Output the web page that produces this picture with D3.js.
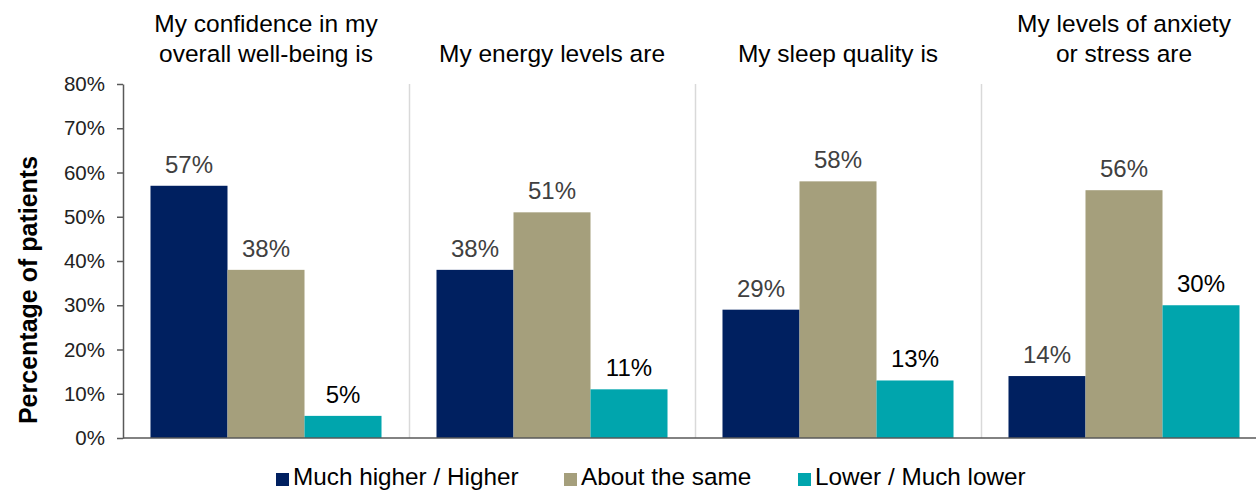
<!DOCTYPE html>
<html>
<head>
<meta charset="utf-8">
<script src="https://cdn.jsdelivr.net/npm/d3@7"></script>
<style>
  html, body { margin: 0; padding: 0; background: #fff; }
  svg { display: block; font-family: "Liberation Sans", Arial, sans-serif; }
</style>
</head>
<body>
<svg id="chart" width="1256" height="491"></svg>
<script>
// Survey questions (one group of bars each)
const categories = [
  ["My confidence in my", "overall well-being is"],
  ["My energy levels are"],
  ["My sleep quality is"],
  ["My levels of anxiety", "or stress are"]
];
const seriesNames = ["Much higher / Higher", "About the same", "Lower / Much lower"];
const seriesColors = ["#002060", "#A59F7C", "#00A5AD"];
const labelColors = ["#404040", "#404040", "#000000"];

// Percentage of patients per question, one array per response
const muchHigher = [57, 38, 29, 14];
const aboutSame = [38, 51, 58, 56];
const lower = [5, 11, 13, 30];

const yTicks = [0, 10, 20, 30, 40, 50, 60, 70, 80];

const seriesValues = [muchHigher, aboutSame, lower];
const keys = categories.map((c, i) => i);

const svg = d3.select("#chart");
const margin = { left: 123, top: 84, bottom: 438 };
const groupWidth = 286;

const x0 = d3.scaleBand()
  .domain(keys)
  .range([margin.left, margin.left + groupWidth * keys.length])
  .padding(0);

const x1 = d3.scaleBand()
  .domain(d3.range(seriesNames.length))
  .range([0, x0.bandwidth()])
  .paddingInner(0)
  .paddingOuter(0.357);

const y = d3.scaleLinear().domain([0, 80]).range([margin.bottom, margin.top]);

// Light separators between question groups
svg.append("g")
  .selectAll("line")
  .data(keys.slice(1))
  .join("line")
  .attr("x1", d => x0(d) + 0.5)
  .attr("x2", d => x0(d) + 0.5)
  .attr("y1", margin.top)
  .attr("y2", margin.bottom)
  .attr("stroke", "#d9d9d9")
  .attr("stroke-width", 1.5);

// Bars
const groups = svg.append("g")
  .selectAll("g")
  .data(keys)
  .join("g")
  .attr("transform", d => `translate(${x0(d)},0)`);

groups.selectAll("rect")
  .data(k => seriesValues.map((vals, s) => ({ s, v: vals[k] })))
  .join("rect")
  .attr("x", d => x1(d.s))
  .attr("width", x1.bandwidth())
  .attr("y", d => y(d.v))
  .attr("height", d => y(0) - y(d.v))
  .attr("fill", d => seriesColors[d.s]);

// Value labels above bars
groups.selectAll("text.val")
  .data(k => seriesValues.map((vals, s) => ({ s, v: vals[k] })))
  .join("text")
  .attr("class", "val")
  .attr("x", d => x1(d.s) + x1.bandwidth() / 2)
  .attr("y", d => y(d.v) - 13)
  .attr("text-anchor", "middle")
  .attr("font-size", 24)
  .attr("fill", d => labelColors[d.s])
  .text(d => d.v + "%");

// Question titles
const titles = svg.append("g")
  .selectAll("text")
  .data(keys)
  .join("text")
  .attr("text-anchor", "middle")
  .attr("font-size", 24.5)
  .attr("fill", "#000")
  .attr("x", d => x0(d) + x0.bandwidth() / 2);

titles.each(function(d) {
  const lines = categories[d];
  const t = d3.select(this);
  lines.forEach((ln, i) => {
    t.append("tspan")
      .attr("x", x0(d) + x0.bandwidth() / 2)
      .attr("y", 62 - (lines.length - 1 - i) * 30)
      .text(ln);
  });
});

// Y axis
const yAxis = svg.append("g")
  .attr("transform", `translate(${margin.left},0)`)
  .call(d3.axisLeft(y).tickValues(yTicks).tickFormat(d => d + "%").tickSize(6).tickSizeOuter(0).tickPadding(12));
yAxis.select(".domain").attr("stroke", "#595959").attr("stroke-width", 1.5);
yAxis.selectAll(".tick line").attr("stroke", "#595959").attr("stroke-width", 1.5);
yAxis.selectAll(".tick text")
  .attr("font-size", 20.5)
  .attr("fill", "#222")
  .attr("font-family", "'Liberation Sans', Arial, sans-serif");

// X baseline
svg.append("line")
  .attr("x1", margin.left)
  .attr("x2", 1256)
  .attr("y1", y(0))
  .attr("y2", y(0))
  .attr("stroke", "#595959")
  .attr("stroke-width", 1.5);

// Y axis title
svg.append("text")
  .attr("transform", `translate(37,290) rotate(-90)`)
  .attr("text-anchor", "middle")
  .attr("font-size", 25)
  .attr("font-weight", "bold")
  .attr("fill", "#000")
  .text("Percentage of patients");

// Legend
const legendX = [276, 564, 798];
const legend = svg.append("g")
  .selectAll("g")
  .data(seriesNames)
  .join("g")
  .attr("transform", (d, i) => `translate(${legendX[i]},479)`);
legend.append("rect")
  .attr("x", 0).attr("y", -6)
  .attr("width", 13).attr("height", 13)
  .attr("fill", (d, i) => seriesColors[i]);
legend.append("text")
  .attr("x", 17).attr("y", 6)
  .attr("font-size", 24.3)
  .attr("fill", "#000")
  .text(d => d);
</script>
</body>
</html>
